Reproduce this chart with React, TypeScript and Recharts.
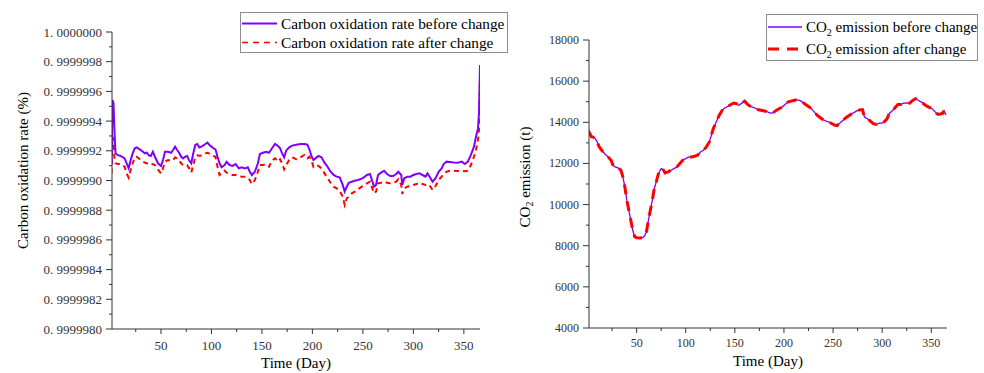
import React from 'react'
import { LineChart, Line, XAxis, YAxis, Legend } from 'recharts'

const FONT = '"Liberation Serif", "Times New Roman", serif'
const PURPLE = '#8000ff'
const RED = '#ff0000'
const AXIS = '#333333'

// ---- left chart: carbon oxidation rate ----
const rateDays = [
  1, 2, 3, 4, 5, 7, 10, 14, 16, 18, 20, 22, 24, 26, 30, 34, 36, 38, 40, 42, 44, 47, 50, 52, 54, 57,
  60, 62, 64, 66, 68, 70, 72, 74, 76, 78, 80, 82, 84, 86, 88, 91, 94, 96, 98, 100, 102, 104, 106,
  108, 110, 113, 115, 118, 121, 124, 127, 130, 133, 136, 138, 140, 143, 146, 148, 151, 154, 157,
  160, 163, 166, 168, 170, 172, 174, 177, 180, 184, 188, 192, 195, 197, 199, 201, 203, 206, 209,
  212, 215, 218, 221, 224, 227, 230, 232, 234, 236, 239, 242, 245, 248, 251, 254, 257, 259, 261,
  263, 265, 268, 271, 274, 277, 280, 283, 285, 288, 289, 291, 294, 297, 300, 303, 306, 309, 312,
  314, 317, 319, 322, 325, 328, 330, 333, 336, 340, 344, 348, 351, 354, 357, 360, 362, 364, 365, 366,
]

const rateBefore = [
  0.999999104, 0.999999542, 0.99999952, 0.999999318, 0.999999183, 0.999999172, 0.999999165,
  0.999999149, 0.999999116, 0.999999082, 0.999999138, 0.999999183, 0.999999217, 0.999999223,
  0.999999205, 0.999999183, 0.999999187, 0.999999169, 0.999999165, 0.999999194, 0.99999916,
  0.999999116, 0.999999098, 0.999999138, 0.999999194, 0.999999194, 0.999999187, 0.999999205,
  0.999999228, 0.999999205, 0.999999187, 0.99999916, 0.999999149, 0.99999916, 0.999999165,
  0.999999134, 0.999999116, 0.999999183, 0.999999239, 0.999999246, 0.999999223, 0.999999232,
  0.999999246, 0.999999255, 0.999999239, 0.999999228, 0.999999217, 0.99999921, 0.99999916,
  0.999999116, 0.999999089, 0.999999104, 0.999999125, 0.999999104, 0.999999098, 0.999999111,
  0.999999082, 0.999999089, 0.999999082, 0.999999089, 0.999999059, 0.999999037, 0.999999059,
  0.999999116, 0.999999178, 0.999999187, 0.999999194, 0.999999187, 0.999999217, 0.999999246,
  0.999999232, 0.999999217, 0.999999183, 0.999999156, 0.999999201, 0.999999223, 0.999999235,
  0.999999241, 0.999999246, 0.999999246, 0.999999241, 0.99999921, 0.999999165, 0.999999138,
  0.999999149, 0.999999165, 0.999999156, 0.99999912, 0.999999093, 0.999999059, 0.999999037,
  0.999999026, 0.999999021, 0.99999897, 0.999998925, 0.999998958, 0.999998985, 0.999998992,
  0.999998999, 0.999999003, 0.99999901, 0.999999021, 0.999999037, 0.999999044, 0.999999003,
  0.999998958, 0.99999897, 0.999999037, 0.999999053, 0.999999066, 0.999999044, 0.99999903,
  0.99999903, 0.999999044, 0.999999059, 0.999999037, 0.99999897, 0.999999015, 0.999999026,
  0.999999026, 0.999999037, 0.999999044, 0.999999048, 0.999999037, 0.999999026, 0.999999048,
  0.999999015, 0.999998992, 0.999999015, 0.999999059, 0.999999082, 0.999999111, 0.999999127,
  0.999999125, 0.999999122, 0.99999912, 0.999999127, 0.999999111, 0.999999127, 0.999999172,
  0.999999228, 0.999999295, 0.999999351, 0.999999452, 0.999999778,
]

const rateAfter = [
  0.999999048, 0.999999295, 0.999999273, 0.999999138, 0.999999116, 0.999999111, 0.999999111,
  0.999999093, 0.999999048, 0.999999019, 0.999999071, 0.999999116, 0.999999156, 0.99999916,
  0.999999138, 0.99999912, 0.999999116, 0.999999109, 0.999999104, 0.999999111, 0.999999104,
  0.999999075, 0.999999048, 0.999999082, 0.999999127, 0.999999138, 0.999999131, 0.999999138,
  0.999999156, 0.999999149, 0.999999134, 0.999999116, 0.999999102, 0.9999991, 0.999999102,
  0.999999082, 0.999999053, 0.999999104, 0.99999916, 0.999999169, 0.999999167, 0.999999169,
  0.999999183, 0.999999187, 0.999999181, 0.999999172, 0.999999165, 0.99999916, 0.999999093,
  0.999999037, 0.999999048, 0.999999066, 0.999999053, 0.999999044, 0.999999037, 0.999999037,
  0.99999903, 0.999999026, 0.999999026, 0.999999015, 0.999999003, 0.999998976, 0.999999003,
  0.999999059, 0.999999104, 0.999999104, 0.999999111, 0.999999093, 0.999999134, 0.999999149,
  0.999999127, 0.999999143, 0.999999116, 0.999999075, 0.999999104, 0.999999138, 0.999999156,
  0.999999143, 0.999999156, 0.999999172, 0.999999149, 0.99999916, 0.999999138, 0.999999093,
  0.999999104, 0.999999098, 0.999999082, 0.999999048, 0.999999015, 0.999998985, 0.999998958,
  0.999998947, 0.999998932, 0.999998891, 0.999998835, 0.99999888, 0.999998891, 0.999998914,
  0.999998925, 0.999998941, 0.999998954, 0.99999897, 0.999998981, 0.999998992, 0.999998954,
  0.999998914, 0.999998925, 0.999998981, 0.999998985, 0.999998992, 0.999998985, 0.999998981,
  0.999998985, 0.999998992, 0.999999008, 0.99999897, 0.999998909, 0.999998947, 0.999998958,
  0.999998963, 0.99999897, 0.999998976, 0.999998985, 0.999998976, 0.99999897, 0.999998976,
  0.999998958, 0.999998936, 0.999998963, 0.999999003, 0.999999026, 0.999999044, 0.999999059,
  0.999999066, 0.999999066, 0.999999064, 0.999999064, 0.999999062, 0.999999066, 0.999999104,
  0.99999916, 0.999999205, 0.999999273, 0.99999934, 0.999999699,
]

const rateTicks = [0.999998, 0.9999982, 0.9999984, 0.9999986, 0.9999988, 0.999999, 0.9999992, 0.9999994, 0.9999996, 0.9999998, 1]
const rateTickLabels = ['0. 9999980', '0. 9999982', '0. 9999984', '0. 9999986', '0. 9999988', '0. 9999990', '0. 9999992', '0. 9999994', '0. 9999996', '0. 9999998', '1. 0000000']
const rateMinorTicks = [0.9999981, 0.9999983, 0.9999985, 0.9999987, 0.9999989, 0.9999991, 0.9999993, 0.9999995, 0.9999997, 0.9999999]

// ---- shared x axis ----
const dayTicks = [50, 100, 150, 200, 250, 300, 350]
const dayMinorTicks = [25, 75, 125, 175, 225, 275, 325]

// ---- right chart: CO2 emission ----
const emissionDays = [
  1, 2, 4, 7, 9, 12, 15, 18, 21, 24, 26, 28, 31, 34, 36, 38, 40, 42, 44, 46, 48, 50, 53, 56, 58,
  60, 62, 64, 66, 68, 70, 72, 74, 75, 77, 79, 82, 85, 88, 91, 94, 97, 100, 103, 106, 109, 112,
  115, 118, 121, 124, 126, 128, 131, 134, 137, 140, 143, 146, 149, 152, 154, 157, 160, 163, 166,
  170, 174, 178, 182, 186, 189, 192, 195, 198, 201, 204, 207, 210, 213, 216, 219, 222, 225, 228,
  231, 234, 237, 240, 243, 246, 249, 252, 254, 257, 260, 263, 266, 269, 272, 275, 278, 280, 282,
  285, 288, 291, 294, 297, 300, 303, 305, 307, 310, 313, 316, 319, 322, 325, 328, 331, 334, 337,
  340, 343, 346, 349, 352, 355, 357, 360, 362, 363, 365,
]

const emissionBefore = [
  13400, 13365, 13284, 13252, 13123, 12800, 12606, 12444, 12315, 12154, 11911, 11831, 11782, 11670,
  11346, 10862, 10216, 9731, 9247, 8762, 8439, 8391, 8375, 8391, 8472, 8681, 9247, 9731, 10216,
  10781, 11104, 11475, 11670, 11750, 11701, 11540, 11588, 11670, 11750, 11831, 11992, 12154, 12234,
  12315, 12315, 12347, 12396, 12557, 12638, 12800, 13042, 13365, 13688, 14011, 14334, 14576, 14705,
  14770, 14867, 14931, 14899, 14818, 14931, 15028, 14867, 14770, 14705, 14609, 14576, 14528, 14447,
  14463, 14576, 14657, 14738, 14867, 14980, 15028, 15061, 15093, 15061, 14980, 14867, 14770, 14657,
  14496, 14334, 14221, 14124, 14060, 14011, 13930, 13850, 13840, 13963, 14092, 14221, 14318, 14415,
  14496, 14576, 14609, 14609, 14253, 14173, 14060, 13930, 13898, 13963, 13963, 14060, 14173, 14415,
  14544, 14705, 14867, 14867, 14931, 14947, 14931, 15061, 15142, 15061, 14980, 14867, 14770, 14705,
  14609, 14447, 14382, 14415, 14420, 14550, 14350,
]

const emissionAfter = [
  13350, 13480, 13300, 13252, 13123, 12800, 12606, 12444, 12315, 12154, 11911, 11831, 11782, 11670,
  11346, 10862, 10216, 9731, 9247, 8762, 8439, 8391, 8375, 8391, 8472, 8681, 9247, 9731, 10216,
  10781, 11104, 11475, 11670, 11750, 11701, 11540, 11588, 11670, 11750, 11831, 11992, 12154, 12234,
  12315, 12315, 12347, 12396, 12557, 12638, 12800, 13042, 13365, 13688, 14011, 14334, 14576, 14705,
  14770, 14867, 14931, 14899, 14818, 14931, 15028, 14867, 14770, 14705, 14609, 14576, 14528, 14447,
  14463, 14576, 14657, 14738, 14867, 14980, 15028, 15061, 15093, 15061, 14980, 14867, 14770, 14657,
  14496, 14334, 14221, 14124, 14060, 14011, 13930, 13850, 13840, 13963, 14092, 14221, 14318, 14415,
  14496, 14576, 14609, 14609, 14253, 14173, 14060, 13930, 13898, 13963, 13963, 14060, 14173, 14415,
  14544, 14705, 14867, 14867, 14931, 14947, 14931, 15061, 15142, 15061, 14980, 14867, 14770, 14705,
  14609, 14447, 14382, 14415, 14450, 14750, 14700,
]

const emissionTicks = [4000, 6000, 8000, 10000, 12000, 14000, 16000, 18000]
const emissionMinorTicks = [5000, 7000, 9000, 11000, 13000, 15000, 17000]

const rateRows = rateDays.map((day, i) => ({ day, before: rateBefore[i], after: rateAfter[i] }))
const emissionRows = emissionDays.map((day, i) => ({ day, before: emissionBefore[i], after: emissionAfter[i] }))

// ---- ticks with minor marks ----
function YTick(props: any) {
  const { y, payload, axisX, majors, labels, fontSize } = props
  const i = majors.indexOf(payload.value)
  const major = i >= 0
  return (
    <g>
      <line x1={axisX - (major ? 6 : 3)} x2={axisX} y1={y} y2={y} stroke={AXIS} strokeWidth={1} />
      {major && (
        <text x={axisX - 10} y={y} textAnchor="end" dominantBaseline="central" fill="#333" fontSize={fontSize} fontFamily={FONT}>
          {labels ? labels[i] : payload.value}
        </text>
      )}
    </g>
  )
}

function XTick(props: any) {
  const { x, payload, axisY, fontSize, dy } = props
  const major = dayTicks.includes(payload.value)
  return (
    <g>
      <line x1={x} x2={x} y1={axisY} y2={axisY + (major ? 5 : 3)} stroke={AXIS} strokeWidth={1} />
      {major && (
        <text x={x} y={axisY + dy} textAnchor="middle" dominantBaseline="central" fill="#333" fontSize={fontSize} fontFamily={FONT}>
          {payload.value}
        </text>
      )}
    </g>
  )
}

// x-axis title drawn on a fixed baseline inside the axis band
const xTitle = (lift: number) => (p: any) => {
  const vb = p.viewBox
  return (
    <text x={vb.x + vb.width / 2} y={vb.y + vb.height - lift} textAnchor="middle" fontSize={15} fontFamily={FONT} fill="#000">
      Time (Day)
    </text>
  )
}

type Item = { label: React.ReactNode; color: string; width: number; dash?: string }

function LegendBox({ items, rowHeight, sample, fontSize }: { items: Item[]; rowHeight: number; sample: number; fontSize: number }) {
  return (
    <div style={{ border: '1px solid #8c8c8c', background: '#fff', fontFamily: FONT, fontSize, color: '#000', paddingTop: 1, paddingLeft: 1 }}>
      {items.map((it, i) => (
        <div key={i} style={{ display: 'flex', alignItems: 'center', height: rowHeight, whiteSpace: 'nowrap' }}>
          <svg width={sample} height={rowHeight} style={{ flex: 'none' }}>
            <line x1={0} x2={sample} y1={rowHeight / 2} y2={rowHeight / 2} stroke={it.color} strokeWidth={it.width} strokeDasharray={it.dash} />
          </svg>
          <span style={{ marginLeft: 4 }}>{it.label}</span>
        </div>
      ))}
    </div>
  )
}

const co2 = (rest: string) => (
  <span>
    CO<span style={{ fontSize: 10, position: 'relative', top: 4 }}>2</span>
    {rest}
  </span>
)

export default function App() {
  return (
    <div style={{ position: 'absolute', left: 0, top: 0, width: 984, height: 373, background: '#fff' }}>
      <div style={{ position: 'absolute', left: 0, top: 0 }}>
        <LineChart width={492} height={373} data={rateRows} margin={{ top: 32, right: 12, bottom: 0, left: 0 }}>
          <XAxis
            dataKey="day"
            type="number"
            domain={[1.5, 366]}
            allowDataOverflow
            ticks={[...dayMinorTicks, ...dayTicks].sort((a, b) => a - b)}
            interval={0}
            height={44}
            tickLine={false}
            axisLine={{ stroke: AXIS }}
            tick={(p: any) => <XTick {...p} axisY={329} fontSize={13} dy={16} />}
            label={xTitle(5)}
          />
          <YAxis
            type="number"
            domain={[0.999998, 1]}
            allowDataOverflow
            ticks={[...rateMinorTicks, ...rateTicks].sort((a, b) => a - b)}
            interval={0}
            width={112}
            tickLine={false}
            axisLine={{ stroke: AXIS }}
            tick={(p: any) => <YTick {...p} axisX={112} majors={rateTicks} labels={rateTickLabels} fontSize={13} />}
            label={(p: any) => {
              const vb = p.viewBox
              const cx = vb.x + 23
              const cy = vb.y + vb.height / 2 - 10
              return (
                <text x={cx} y={cy} transform={`rotate(-90 ${cx} ${cy})`} textAnchor="middle" dominantBaseline="central" fontSize={15} fontFamily={FONT} fill="#000">
                  Carbon oxidation rate (%)
                </text>
              )
            }}
          />
          <Line type="linear" dataKey="after" stroke={RED} strokeWidth={2} strokeDasharray="5 4" dot={false} activeDot={false} isAnimationActive={false} />
          <Line type="linear" dataKey="before" stroke={PURPLE} strokeWidth={2} dot={false} activeDot={false} isAnimationActive={false} />
          <Legend
            layout="vertical"
            align="center"
            verticalAlign="middle"
            wrapperStyle={{ left: 240, top: 12, width: 268, height: 'auto' }}
            content={() => (
              <LegendBox
                rowHeight={19}
                sample={35}
                fontSize={15.3}
                items={[
                  { label: 'Carbon oxidation rate before change', color: PURPLE, width: 2 },
                  { label: 'Carbon oxidation rate after change', color: RED, width: 1.5, dash: '6 5' },
                ]}
              />
            )}
          />
        </LineChart>
      </div>
      <div style={{ position: 'absolute', left: 492, top: 0 }}>
        <LineChart width={492} height={373} data={emissionRows} margin={{ top: 40, right: 37, bottom: 0, left: 0 }}>
          <XAxis
            dataKey="day"
            type="number"
            domain={[1.5, 366]}
            allowDataOverflow
            ticks={[...dayMinorTicks, ...dayTicks].sort((a, b) => a - b)}
            interval={0}
            height={45}
            tickLine={false}
            axisLine={{ stroke: AXIS }}
            tick={(p: any) => <XTick {...p} axisY={328} fontSize={12} dy={15} />}
            label={xTitle(7)}
          />
          <YAxis
            type="number"
            domain={[4000, 18000]}
            allowDataOverflow
            ticks={[...emissionMinorTicks, ...emissionTicks].sort((a, b) => a - b)}
            interval={0}
            width={97}
            tickLine={false}
            axisLine={{ stroke: AXIS }}
            tick={(p: any) => <YTick {...p} axisX={97} majors={emissionTicks} fontSize={12} />}
            label={(p: any) => {
              const vb = p.viewBox
              const cx = vb.x + 33
              const cy = vb.y + vb.height / 2 - 7
              return (
                <text x={cx} y={cy} transform={`rotate(-90 ${cx} ${cy})`} textAnchor="middle" dominantBaseline="central" fontSize={15} fontFamily={FONT} fill="#000">
                  <tspan>CO</tspan>
                  <tspan dy={4} fontSize={10}>2</tspan>
                  <tspan dy={-4}> emission (t)</tspan>
                </text>
              )
            }}
          />
          <Line type="linear" dataKey="before" stroke={PURPLE} strokeWidth={1.3} dot={false} activeDot={false} isAnimationActive={false} />
          <Line type="linear" dataKey="after" stroke={RED} strokeWidth={3} strokeDasharray="10 7" dot={false} activeDot={false} isAnimationActive={false} />
          <Legend
            layout="vertical"
            align="center"
            verticalAlign="middle"
            wrapperStyle={{ left: 274, top: 14, width: 212, height: 'auto' }}
            content={() => (
              <LegendBox
                rowHeight={22}
                sample={34}
                fontSize={15}
                items={[
                  { label: co2(' emission before change'), color: PURPLE, width: 1.5 },
                  { label: co2(' emission after change'), color: RED, width: 3, dash: '11 8' },
                ]}
              />
            )}
          />
        </LineChart>
      </div>
    </div>
  )
}
